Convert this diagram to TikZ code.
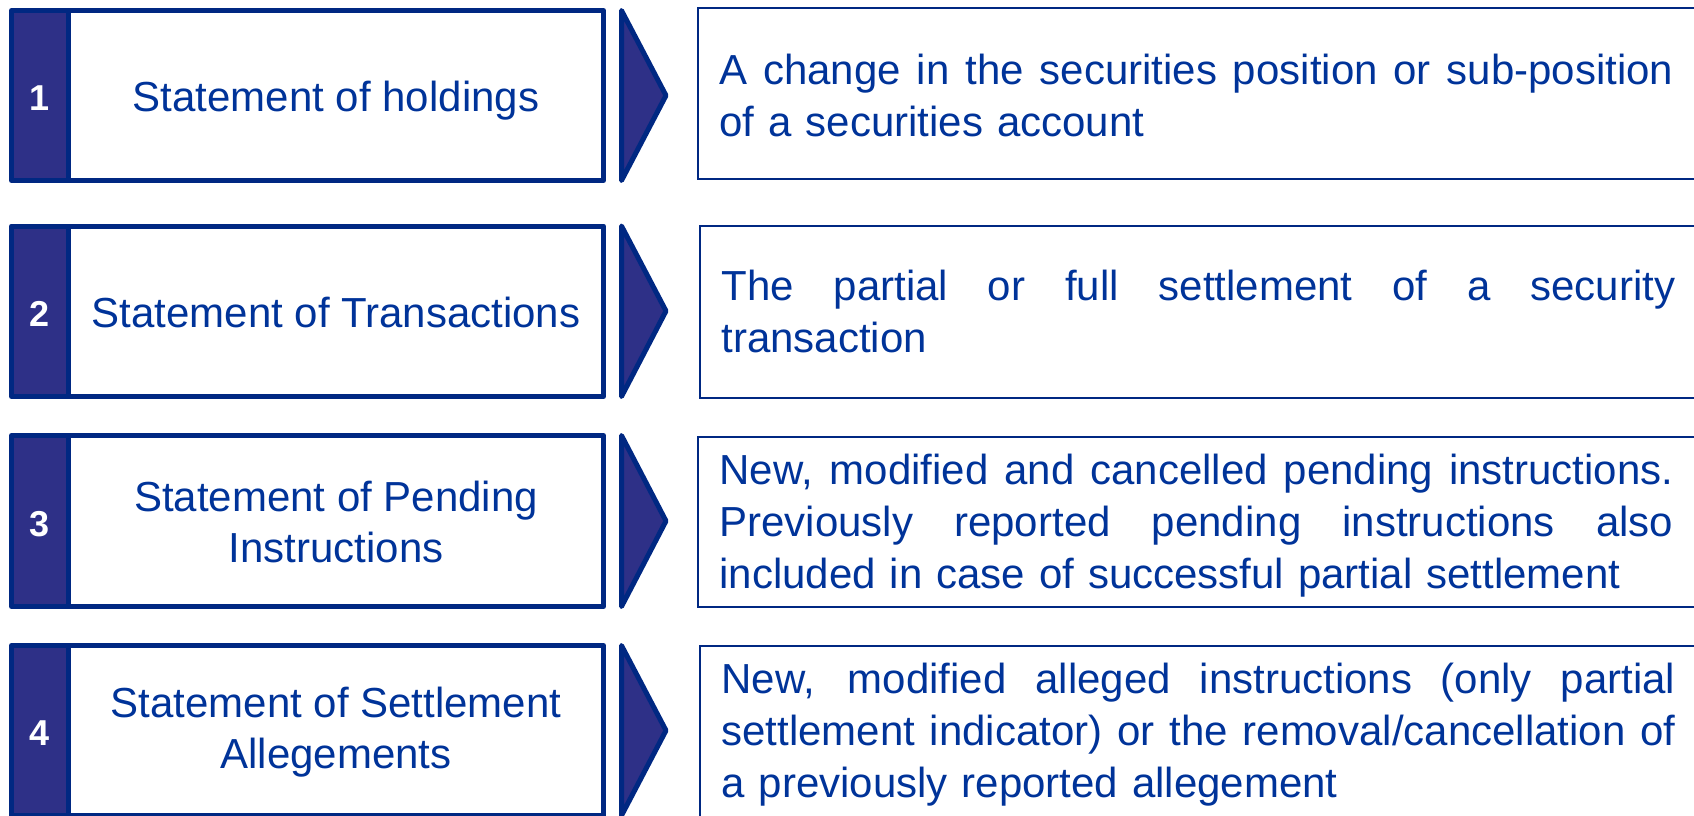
\documentclass[tikz,border=0pt]{standalone}
\usepackage{fontspec}
\setmainfont{Liberation Sans}

\definecolor{rowline}{RGB}{0,40,130}
\definecolor{rowfill}{RGB}{46,48,135}
\definecolor{rowtext}{RGB}{0,51,153}

% a line stretched to the full text width
\newcommand{\fullline}[1]{{\spaceskip=0pt\xspaceskip=0pt\makebox[477pt][s]{#1}}}

\begin{document}
\begin{tikzpicture}[x=0.5pt, y=-0.5pt,
  outline/.style={draw=rowline, line width=2.5pt, line join=round},
  chevron/.style={draw=rowline, fill=rowfill, line width=2.5pt, line join=round},
  infobox/.style={draw=rowline, line width=1pt},
  numtext/.style={text=white, font=\fontsize{18}{20}\selectfont\bfseries},
  titletext/.style={text=rowtext, align=center, inner sep=0pt, font=\fontsize{21}{25.5}\selectfont},
  infotext/.style={text=rowtext, text width=477pt, align=left, inner sep=0pt, anchor=west, font=\fontsize{21}{26}\selectfont}]

\useasboundingbox (0,0) rectangle (1694,815);

% Row 1: statement of holdings
\coordinate (A1) at (11.5, 10.5);
\coordinate (B1) at (603.5, 180.5);
\coordinate (S1) at (68, 180.5);
\fill[rowfill] (A1) rectangle (S1);
\draw[outline] (A1) rectangle (B1);
\draw[outline] (68, 10.5) -- (S1);
\draw[chevron] (621.5, 10.5) -- (666, 95.5) -- (621.5, 180.5) -- cycle;
\draw[infobox] (1700, 8) -- (698, 8) -- (698, 179) -- (1700, 179);
\node[numtext] (num1) at (40, 98.5) {1};
\node[titletext] (title1) at (336, 101) {Statement of holdings};
\node[infotext] (info1) at (719, 95.5) {\fullline{A change in the securities position or sub-position}\\
  of a securities account};

% Row 2: statement of transactions
\coordinate (A2) at (11.5, 226);
\coordinate (B2) at (603.5, 396.5);
\coordinate (S2) at (68, 396.5);
\fill[rowfill] (A2) rectangle (S2);
\draw[outline] (A2) rectangle (B2);
\draw[outline] (68, 226) -- (S2);
\draw[chevron] (621.5, 226) -- (666, 311) -- (621.5, 396.5) -- cycle;
\draw[infobox] (1700, 226) -- (700, 226) -- (700, 398) -- (1700, 398);
\node[numtext] (num2) at (40, 314) {2};
\node[titletext] (title2) at (336, 312) {Statement of Transactions};
\node[infotext] (info2) at (721, 311) {\fullline{The partial or full settlement of a security}\\
  transaction};

% Row 3: statement of pending instructions
\coordinate (A3) at (11.5, 435.5);
\coordinate (B3) at (603.5, 606.5);
\coordinate (S3) at (68, 606.5);
\fill[rowfill] (A3) rectangle (S3);
\draw[outline] (A3) rectangle (B3);
\draw[outline] (68, 435.5) -- (S3);
\draw[chevron] (621.5, 435.5) -- (666, 521) -- (621.5, 606.5) -- cycle;
\draw[infobox] (1700, 437) -- (698, 437) -- (698, 607) -- (1700, 607);
\node[numtext] (num3) at (40, 524) {3};
\node[titletext] (title3) at (336, 522) {Statement of Pending\\Instructions};
\node[infotext] (info3) at (719, 526) {\fullline{New, modified and cancelled pending instructions.}\\
  \fullline{Previously reported pending instructions also}\\
  included in case of successful partial settlement};

% Row 4: statement of settlement allegements
\coordinate (A4) at (11.5, 645.5);
\coordinate (B4) at (603.5, 815.5);
\coordinate (S4) at (68, 815.5);
\fill[rowfill] (A4) rectangle (S4);
\draw[outline] (A4) rectangle (B4);
\draw[outline] (68, 645.5) -- (S4);
\draw[chevron] (621.5, 645.5) -- (666, 730.5) -- (621.5, 815.5) -- cycle;
\draw[infobox] (1700, 646) -- (700, 646) -- (700, 817) -- (1700, 817);
\node[numtext] (num4) at (40, 733.5) {4};
\node[titletext] (title4) at (336, 732) {Statement of Settlement\\Allegements};
\node[infotext] (info4) at (721, 735) {\fullline{New, modified alleged instructions (only partial}\\
  \fullline{settlement indicator) or the removal/cancellation of}\\
  a previously reported allegement};

\end{tikzpicture}
\end{document}
